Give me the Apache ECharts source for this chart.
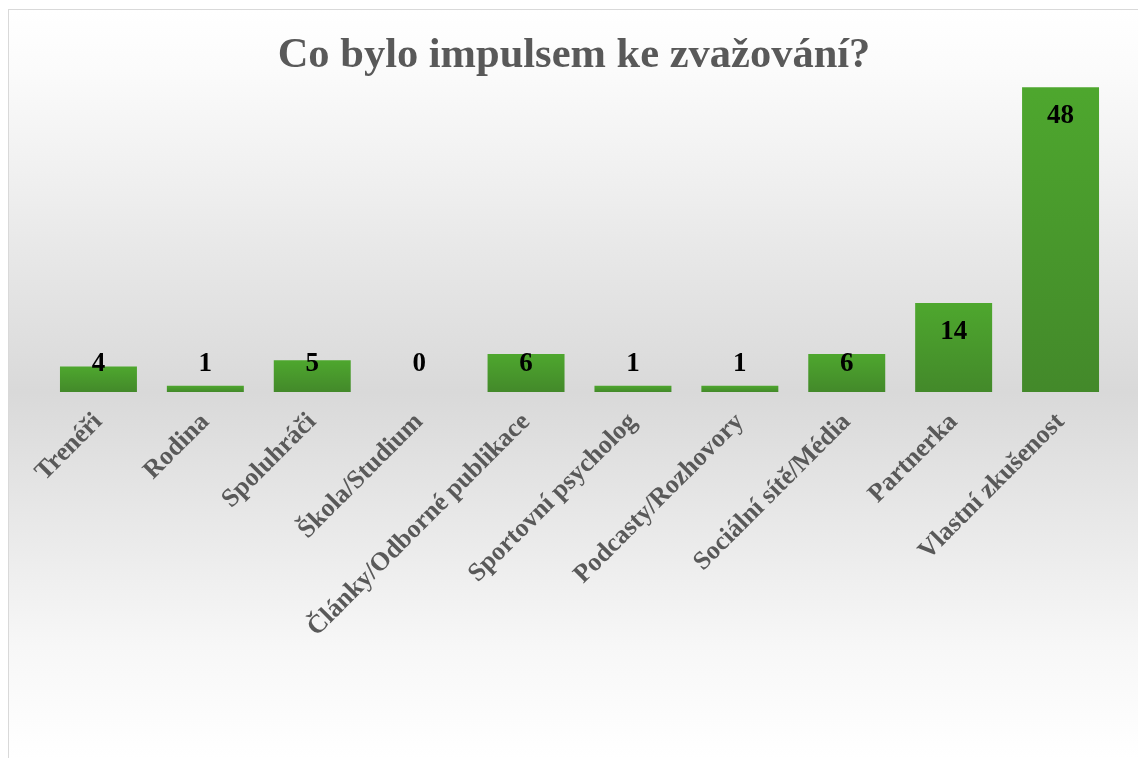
<!DOCTYPE html>
<html>
<head>
<meta charset="utf-8">
<title>Co bylo impulsem ke zvažování?</title>
<script src="https://cdn.jsdelivr.net/npm/echarts@6/dist/echarts.min.js"></script>
<style>
  html, body { margin: 0; padding: 0; background: #ffffff; overflow: hidden; }
  #chart {
    position: absolute;
    left: 8px;
    top: 9px;
    width: 1130px;
    height: 749px;
    border-left: 1px solid #d9d9d9;
    border-top: 1px solid #d9d9d9;
  }
</style>
</head>
<body>
<div id="chart"></div>
<script>
// kategorie a hodnoty
const categories = [
  'Trenéři', 'Rodina', 'Spoluhráči', 'Škola/Studium', 'Články/Odborné publikace',
  'Sportovní psycholog', 'Podcasty/Rozhovory', 'Sociální sítě/Média', 'Partnerka', 'Vlastní zkušenost'
]
const counts = [4, 1, 5, 0, 6, 1, 1, 6, 14, 48]

const serif = '"Liberation Serif", "DejaVu Serif", serif'

const chart = echarts.init(document.getElementById('chart'))

// nízké sloupce mají popisek nad základnou
const seriesData = counts.map(v => {
  return {
    value: v,
    label: v >= 9
      ? { position: 'insideTop', distance: 15 }
      : { position: 'insideBottom', distance: 14 }
  }
})

const option = {
  backgroundColor: new echarts.graphic.LinearGradient(0, 0, 0, 1, [
    { offset: 0, color: '#ffffff' },
    { offset: 0.08, color: '#fbfbfb' },
    { offset: 0.51, color: '#d9d9d9' },
    { offset: 0.85, color: '#f7f7f7' },
    { offset: 1, color: '#ffffff' }
  ]),
  title: {
    text: 'Co bylo impulsem ke zvažování?',
    left: 'center',
    top: 20,
    textStyle: {
      fontFamily: serif,
      fontWeight: 'bold',
      fontSize: 42.5,
      color: '#595959'
    }
  },
  grid: {
    left: 36,
    right: 25,
    top: 64.5,
    bottom: 367
  },
  xAxis: {
    type: 'category',
    data: categories,
    axisLine: { show: false },
    axisTick: { show: false },
    axisLabel: {
      interval: 0,
      rotate: 45,
      margin: 26,
      fontFamily: serif,
      fontWeight: 'bold',
      fontSize: 26,
      color: '#595959'
    }
  },
  yAxis: {
    type: 'value',
    min: 0,
    max: 50,
    show: false,
    splitLine: { show: false }
  },
  series: [
    {
      type: 'bar',
      data: seriesData,
      barWidth: '72%',
      itemStyle: {
        color: new echarts.graphic.LinearGradient(0, 0, 0, 1, [
          { offset: 0, color: '#4ea72e' },
          { offset: 1, color: '#43892a' }
        ])
      },
      label: {
        show: true,
        fontFamily: serif,
        fontWeight: 'bold',
        fontSize: 27,
        color: '#000000'
      }
    }
  ]
}

chart.setOption(option)
</script>
</body>
</html>
